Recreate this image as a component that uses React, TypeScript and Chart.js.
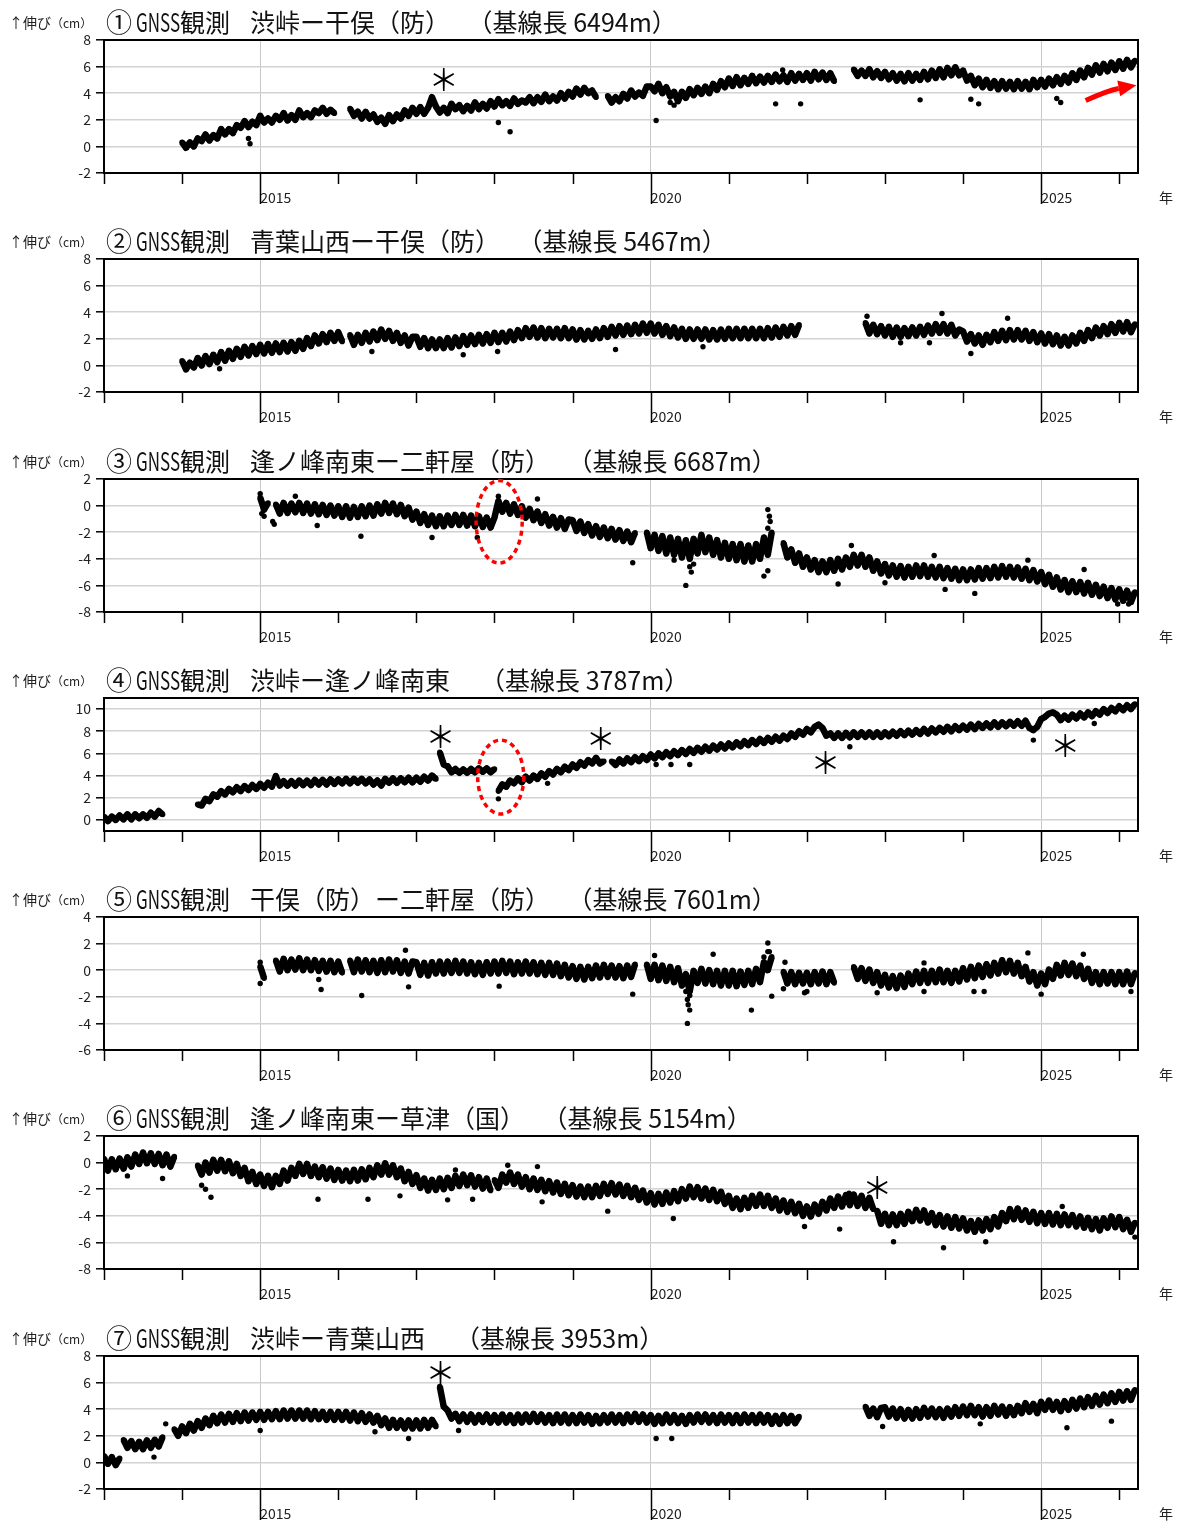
import React, { useEffect, useRef } from 'react';
import { Chart, registerables } from 'chart.js';
Chart.register(...registerables);

const FONT = "'Noto Sans CJK JP', 'Noto Sans', sans-serif";
const X_MIN = 2013.0;
const X_MAX = 2026.24;
const STEP = 0.05;
const xTickYears = [2013, 2014, 2015, 2016, 2017, 2018, 2019, 2020, 2021, 2022, 2023, 2024, 2025, 2026];
const xLabelYears = [2015, 2020, 2025];

// ---------- Panel 1 ----------
const p1a = [0.3,-0.1,0.3,0.0,0.6,0.4,0.9,0.45,0.85,0.6,1.3,0.9,1.3,1.0,1.6,1.4,1.9,1.45,1.85,1.6,
  2.3,1.8,2.1,1.8,2.3,2.0,2.5,1.95,2.35,2.0,2.7,2.2,2.5,2.2,2.7,2.5,2.9,2.45,2.75,2.5];
const p1b = [2.85,2.3,2.6,2.1,2.6,2.1,2.4,
  1.85,2.15,1.7,2.35,1.9,2.4,
  2.1,2.7,2.3,2.9,2.45,2.95,2.45,2.9,
  3.7,3.0,
  2.55,2.9,2.5,3.2,2.8,3.1,2.65,3.05,2.7,3.3,2.8,3.2,2.85,3.4,
  3.0,3.55,3.1,3.4,3.05,3.6,3.2,3.45,3.3,3.7,3.25,3.7,3.35,3.9,3.4,3.75,3.45,4.0,3.6,4.1,
  3.75,4.35,3.9,4.4,4.0,4.2,3.7];
const p1c = [3.8,3.3,3.7,3.4,3.95,3.6,4.2,3.75,4.05,3.8,4.5,
  4.5,4.15,4.7,4.0,4.45,3.75,4.1,
  3.4,4.1,3.65,4.3,3.85,4.4,3.95,4.5,4.0,4.7,4.25,4.9,4.45,
  5.1,4.55,5.2,4.6,5.15,4.7,5.3,4.75,5.25,4.8,5.3,4.85,5.4,4.9,5.35,4.85,5.5,4.95,5.45,5.0,
  5.5,4.95,5.6,5.05,5.55,5.0,5.5,4.9];
const p1d = [5.8,5.3,5.7,5.3,5.8,5.2,5.65,5.15,
  5.6,5.05,5.5,4.95,5.45,4.9,5.5,4.95,5.45,5.0,5.6,5.05,
  5.7,5.15,5.8,5.2,5.9,5.35,5.95,5.35,
  5.7,4.95,5.3,4.6,5.1,4.45,5.0,4.4,4.9,4.3,
  4.9,4.35,4.85,4.3,4.9,4.35,4.85,4.3,5.0,4.45,
  5.0,4.5,5.1,4.6,5.2,4.7,5.3,4.8,5.5,5.0,
  5.7,5.2,5.9,5.4,6.1,5.55,6.2,5.65,6.3,5.75,6.4,5.85,6.5,5.95,6.45];
const p1Out = [[2014.85,0.6],[2014.87,0.2],[2018.05,1.8],[2018.2,1.1],[2020.07,1.95],[2020.25,3.3],[2020.3,3.1],
  [2021.6,3.2],[2021.69,5.75],[2021.92,3.2],[2023.45,3.5],[2024.1,3.55],[2024.2,3.2],[2025.25,3.3],[2025.2,3.6]];

// ---------- Panel 2 ----------
const p2a = [0.35,-0.3,0.2,-0.15,0.55,0.0,0.7,0.1,0.8,0.25,1.0,0.35,1.1,0.5,1.25,0.65,1.4,0.75,1.45,0.85,
  1.55,0.9,1.6,0.95,1.65,1.0,1.7,1.05,1.75,1.1,1.85,1.25,2.05,1.45,2.25,1.65,2.35,1.75,2.45,1.85,
  2.5,1.8];
const p2b = [2.3,1.55,2.3,1.7,2.45,1.8,2.55,1.9,2.7,2.0,2.6,1.85,2.45,1.7,2.25,1.5,2.15,
  2.15,1.4,2.05,1.3,1.95,1.3,1.95,1.3,2.05,1.35,2.1,1.45,2.2,1.55,2.25,1.6,2.3,1.65,2.35,1.7,
  2.45,1.75,2.45,1.8,2.55,1.9,2.65,2.05,2.8,2.15,2.85,2.1,2.8,2.05,2.75,2.1,2.75,2.05,2.8,2.05,
  2.7,1.95,2.65,1.95,2.6,2.0,2.7,2.05,2.8,2.15,2.9,2.25,2.95,2.3,3.0,2.35,3.05,2.4,3.15,2.45,
  3.15,2.4,3.05,2.3,2.95,2.2,2.85,2.1,2.75,2.0,2.7,2.0,2.7,2.0,2.7,1.95,2.65,1.95,2.7,2.0,
  2.75,2.05,2.75,2.05,2.75,2.05,2.75,2.05,2.75,2.05,2.8,2.1,2.85,2.15,2.9,2.25,2.95,2.3,3.05];
const p2c = [3.2,2.4,3.05,2.35,2.95,
  2.25,2.9,2.15,2.85,2.15,2.8,2.2,2.85,2.25,2.9,2.3,3.0,2.4,3.1,2.45,3.1,2.4,3.05,2.25,2.7,
  2.55,1.8,2.35,1.65,2.25,1.55,2.3,1.75,2.5,1.85,2.6,1.9,2.65,1.95,2.65,1.95,2.6,1.85,2.5,1.75,
  2.4,1.65,2.35,1.6,2.25,1.5,2.15,1.5,2.25,1.65,2.45,1.85,2.65,2.05,2.85,2.25,2.95,2.35,3.1,2.45,
  3.2,2.55,3.25,2.5,3.1];
const p2Out = [[2014.48,-0.25],[2016.43,1.05],[2017.6,0.8],[2018.04,1.05],[2019.55,1.2],[2020.67,1.4],
  [2022.77,3.7],[2023.2,1.7],[2023.57,1.7],[2023.73,3.9],[2024.1,0.9],[2024.57,3.55]];

// ---------- Panel 3 ----------
const p3a = [0.6,-0.3,0.2];
const p3b = [0.1,-0.6,0.2,-0.55,0.15,-0.5,0.2,-0.55,0.15,-0.6,0.1,-0.65,0.05,-0.7,0.0,-0.75,
  -0.05,-0.85,-0.05,-0.9,-0.1,-0.85,-0.05,-0.8,0.0,-0.75,0.1,-0.6,0.2,-0.55,0.15,-0.65,0.05,-0.8,-0.15,-1.05,
  -0.45,-1.3,-0.65,-1.45,-0.75,-1.55,-0.8,-1.55,-0.75,-1.45,-0.7,-1.45,-0.7,-1.5,-0.75,-1.55,-0.8,-1.6,-0.9,-1.65,
  -0.9,
  0.35,-0.45,0.2,-0.6,0.1,-0.7,-0.05,-0.9,-0.25,-1.1,-0.45,-1.3,-0.65,-1.5,-0.85,-1.65,-0.95,-1.75,-1.05,
  -1.1,-1.9,-1.2,-2.05,-1.4,-2.25,-1.55,-2.35,-1.65,-2.45,-1.75,-2.55,-1.85,-2.65,-1.95,-2.75,-2.05];
const p3c = [-2.0,-3.2,-2.2,-3.4,-2.3,-3.6,-2.4,-3.7,-2.5,-3.9,-2.6,
  -4.0,-2.5,-3.6,-2.2,-3.5,-2.4,-3.7,-2.6,-3.9,-2.8,
  -4.0,-2.9,-4.1,-2.9,-4.2,-3.0,-4.2,-2.9,-4.0,-2.4,-3.7,-2.0];
const p3d = [-2.8,-3.9,-3.3,-4.3,-3.6,-4.6,
  -3.9,-4.8,-4.1,-5.0,-4.2,-5.0,-4.1,-4.9,-4.0,-4.8,-3.9,-4.6,-3.7,-4.5,-3.7,-4.6,-3.9,-4.9,-4.2,-5.1,
  -4.4,-5.25,-4.5,-5.35,-4.55,-5.4,-4.6,-5.35,-4.5,-5.3,-4.5,-5.35,-4.6,-5.4,-4.6,-5.45,-4.7,-5.5,-4.75,-5.6,
  -4.8,-5.6,-4.8,-5.55,-4.7,-5.5,-4.7,-5.45,-4.6,-5.4,-4.55,-5.35,-4.6,-5.4,-4.65,-5.5,-4.75,-5.6,-4.85,-5.7,
  -5.0,-5.9,-5.2,-6.1,-5.4,-6.3,-5.6,-6.5,-5.7,-6.5,-5.75,-6.6,-5.8,-6.7,-5.95,-6.8,-6.1,-6.95,-6.2,-7.05,
  -6.3,-7.15,-6.4,-7.25,-6.5];
const p3Out = [[2015.0,0.9],[2015.02,-0.6],[2015.05,-0.8],[2015.16,-1.2],[2015.18,-1.4],[2015.45,0.7],[2015.73,-1.5],
  [2016.29,-2.3],[2017.2,-2.4],[2017.78,-2.4],[2018.05,0.7],[2018.55,0.5],[2019.77,-4.3],[2020.3,-4.1],[2020.45,-6.0],
  [2020.5,-4.6],[2020.52,-5.0],[2020.55,-4.4],[2021.45,-5.3],[2021.5,-4.9],[2021.5,-0.3],[2021.52,-0.8],[2021.53,-1.2],
  [2021.5,-1.7],[2022.4,-5.9],[2022.57,-3.0],[2023.0,-5.8],[2023.63,-3.75],[2023.77,-6.3],[2024.15,-6.6],[2024.83,-4.1],
  [2025.55,-4.8],[2025.98,-7.4],[2026.12,-7.4]];

// ---------- Panel 4 ----------
const p4a = [0.3,-0.1,0.3,0.0,0.4,0.05,0.5,0.05,0.5,0.15,0.5,0.2,0.65,0.3,0.8,0.5];
const p4b = [1.4,1.3,1.9,1.7,2.3,2.1,2.6,2.3,2.8,2.5,2.95,2.6,3.05,2.7,3.15,2.8,
  3.25,2.9,3.35,3.0,3.95,3.1,3.5,3.1,3.5,3.1,3.55,3.15,3.55,3.15,3.6,3.2,3.6,3.2,3.65,3.25,
  3.65,3.3,3.7,3.3,3.7,3.35,3.7,3.3,3.65,3.2,3.55,3.1,3.7,3.35,3.75,3.35,3.75,3.4,3.8,3.4,
  3.8,3.45,3.9,3.55,4.0,3.7];
const p4c = [6.1,5.0,4.85,4.3,4.6,4.25,4.55,4.25,4.6,4.3,4.65,4.35,4.65,4.3,4.6];
const p4d = [2.6,3.2,3.0,3.55,3.3,3.75,3.4,3.9,3.55,4.0,3.7,4.2,3.9,4.4,4.1,4.6,4.3,4.8,4.5,5.0,4.7,5.2,4.9,5.4,5.1,5.6,5.1,5.3];
const p4e = [5.3,4.95,5.45,5.1,5.55,5.2,5.65,5.3,5.75,5.4,
  5.9,5.55,6.0,5.65,6.1,5.75,6.2,5.85,6.3,5.95,6.4,6.05,6.5,6.15,6.6,6.25,6.7,6.35,6.8,6.45,
  6.9,6.55,7.0,6.65,7.1,6.75,7.2,6.85,7.3,6.95,7.4,7.05,7.5,7.15,7.6,7.3,7.8,7.5,8.0,7.7,
  8.2,7.9,8.4,8.6,8.3,7.6,7.8,7.4,7.8,7.4,7.85,7.45,7.9,7.5,7.9,7.5,7.9,7.5,7.9,7.5,
  7.9,7.55,7.95,7.6,8.0,7.65,8.05,7.7,8.1,7.75,8.2,7.8,8.25,7.9,8.3,7.95,8.4,8.0,8.45,8.1,
  8.5,8.15,8.6,8.2,8.65,8.3,8.7,8.35,8.8,8.4,8.8,8.45,8.85,8.5,8.9,8.5,8.95,8.3,8.1,8.4,
  9.1,9.3,9.6,9.7,9.5,9.0,9.4,9.05,9.5,9.15,9.6,9.25,9.7,9.35,9.8,9.5,10.0,9.65,10.1,9.8,
  10.25,9.9,10.35,10.0,10.45];
const p4Out = [[2018.05,1.9],[2018.68,3.3],[2020.07,5.0],[2020.26,5.0],[2020.5,5.0],[2022.55,6.6],[2024.9,7.2],[2025.68,8.7]];

// ---------- Panel 5 ----------
const p5a = [0.3,-0.6];
const p5b = [0.75,-0.1,0.85,0.0,0.8,0.05,0.9,0.0,0.8,0.0,0.75,-0.05,0.7,-0.1,0.7,-0.15,0.65,-0.2];
const p5c = [0.75,-0.15,0.8,-0.1,0.75,-0.15,0.7,-0.2,0.75,-0.15,0.8,-0.1,0.75,-0.2,0.65,-0.25,0.65,
  0.6,-0.35,0.55,-0.4,0.6,-0.25,0.65,-0.25,0.65,-0.2,0.7,-0.2,0.65,-0.25,0.6,-0.3,0.55,-0.35,0.6,-0.25,
  0.65,-0.25,0.7,-0.2,0.65,-0.3,0.6,-0.25,0.65,-0.25,0.6,-0.3,0.55,-0.35,0.55,-0.35,0.5,-0.45,0.4,-0.55,
  0.3,-0.65,0.25,-0.7,0.25,-0.6,0.35,-0.55,0.4,-0.5,0.35,-0.55,0.3,-0.6,0.35,-0.5,0.45];
const p5d = [0.45,-0.65,0.4,-0.75,0.35,-0.8,0.25,-0.9,0.15,-1.15,-0.3,
  -1.6,-0.05,-0.95,0.1,-1.0,0.0,-1.05,-0.05,-1.15,-0.05,
  -1.15,-0.05,-1.2,-0.1,-1.1,-0.05,-1.05,0.1,-0.9,0.6,0.0,1.0];
const p5e = [-0.1,-1.0,-0.15,-1.05,-0.2,-1.0,-0.2,-1.05,-0.15,-1.0,-0.1,-1.05,-0.15,-0.95];
const p5f = [0.25,-0.65,0.15,-0.8,0.05,-0.95,-0.15,-1.15,
  -0.35,-1.3,-0.45,-1.35,-0.4,-1.25,-0.25,-1.05,-0.1,-0.95,-0.05,-0.95,-0.05,-0.9,0.05,-0.9,-0.05,-0.95,-0.05,-0.85,
  0.15,-0.7,0.25,-0.6,0.35,-0.5,0.45,-0.4,0.55,-0.25,0.75,-0.15,0.7,-0.25,0.55,-0.45,0.25,-0.85,-0.15,-1.15,
  -0.25,-1.05,0.05,-0.65,0.4,-0.4,0.55,-0.35,0.5,-0.45,0.35,-0.65,0.1,-0.95,-0.15,-1.05,-0.15,-1.0,-0.15,-1.05,
  -0.15,-1.05,-0.1,-1.05,-0.2];
const p5Out = [[2015.0,-1.0],[2015.0,0.6],[2015.78,-1.45],[2015.75,-0.7],[2016.3,-1.9],[2016.86,1.5],[2016.9,-1.25],
  [2018.06,-1.2],[2019.77,-1.8],[2020.05,1.1],[2020.45,-1.6],[2020.47,-2.2],[2020.48,-2.6],[2020.5,-3.0],[2020.47,-4.0],
  [2020.5,-1.9],[2020.8,1.2],[2021.29,-3.0],[2021.45,1.0],[2021.5,2.05],[2021.5,1.4],[2021.52,1.4],[2021.55,-1.95],
  [2021.72,0.6],[2021.7,-1.4],[2021.97,-1.7],[2022.0,-1.6],[2022.9,-1.7],[2023.5,0.55],[2023.5,-1.6],[2024.14,-1.6],
  [2024.27,-1.6],[2024.83,1.3],[2025.0,-1.8],[2025.54,1.2],[2026.15,-1.6]];

// ---------- Panel 6 ----------
const p6a = [0.3,-0.6,0.25,-0.5,0.3,-0.45,0.4,-0.3,0.6,-0.1,0.75,-0.05,0.7,-0.1,0.65,-0.2,0.6,-0.3,0.45];
const p6b = [-0.2,-0.9,0.0,-0.75,0.2,-0.6,0.2,-0.65,0.1,-0.8,-0.1,-1.0,-0.4,-1.4,-0.7,-1.6,
  -0.9,-1.75,-1.0,-1.85,-1.0,-1.6,-0.6,-1.35,-0.4,-1.0,-0.1,-0.85,-0.1,-1.0,-0.3,-1.1,-0.35,-1.2,-0.45,-1.3,
  -0.55,-1.35,-0.6,-1.4,-0.55,-1.35,-0.5,-1.25,-0.4,-1.1,-0.2,-0.9,-0.05,-0.9,-0.2,-1.1,-0.45,-1.4,-0.7,-1.6,
  -0.95,-1.9,-1.2,-2.1,-1.3,-2.05,-1.2,-2.0,-1.15,-1.9,-1.0,-1.75,-0.9,-1.7,-0.95,-1.8,-1.1,-1.95,-1.2,-2.1];
const p6c = [-1.3,-1.9,-0.9,-1.5,-0.75,-1.6,-0.9,-1.8,-1.1,-2.0,-1.2,-2.05,-1.3,-2.15,-1.4,-2.25,-1.5,-2.35,-1.6,-2.45,
  -1.7,-2.55,-1.8,-2.6,-1.8,-2.6,-1.75,-2.5,-1.6,-2.35,-1.55,-2.4,-1.65,-2.5,-1.75,-2.6,-1.9,-2.8,-2.1,-3.0,
  -2.3,-3.15,-2.35,-3.1,-2.25,-3.0,-2.15,-2.9,-2.0,-2.7,-1.8,-2.6,-1.85,-2.7,-1.95,-2.8,-2.05,-2.9,-2.2,-3.1,
  -2.5,-3.4,-2.7,-3.5,-2.65,-3.4,-2.5,-3.25,-2.4,-3.25,-2.5,-3.4,-2.7,-3.6,-2.85,-3.7,-2.95,-3.8,-3.1,-4.0,
  -3.3,-4.05,-3.15,-3.85,-2.95,-3.6,-2.7,-3.4,-2.55,-3.3,-2.45,-3.2,-2.4,-3.25,-2.5,-3.4,-2.65,-3.5];
const p6d = [-3.6,-4.6,
  -3.85,-4.7,-3.9,-4.7,-3.85,-4.6,-3.7,-4.4,-3.55,-4.35,-3.6,-4.5,-3.8,-4.7,-3.95,-4.8,-4.05,-4.9,-4.1,-4.95,
  -4.2,-5.1,-4.4,-5.2,-4.35,-5.1,-4.25,-5.0,-4.1,-4.8,-3.8,-4.4,-3.5,-4.25,-3.45,-4.3,-3.6,-4.45,-3.7,-4.55,
  -3.8,-4.6,-3.8,-4.65,-3.85,-4.7,-3.9,-4.7,-3.95,-4.8,-4.05,-4.9,-4.15,-5.0,-4.25,-5.1,-4.2,-4.9,-4.05,-4.85,
  -4.1,-5.0,-4.3,-5.2,-4.5];
const p6Out = [[2013.3,-1.0],[2013.75,-1.2],[2014.25,-1.7],[2014.3,-2.0],[2014.37,-2.6],[2015.74,-2.75],[2016.38,-2.75],
  [2016.79,-2.5],[2017.4,-2.8],[2017.5,-0.55],[2017.72,-2.75],[2018.17,-0.2],[2018.55,-0.3],[2018.61,-2.95],[2019.45,-3.65],
  [2020.29,-4.2],[2021.97,-4.8],[2022.42,-5.0],[2022.54,-2.3],[2023.11,-5.95],[2023.75,-6.4],[2024.29,-5.95],
  [2025.27,-3.3],[2026.2,-5.6]];

// ---------- Panel 7 ----------
const p7a = [0.5,-0.1,0.4,-0.2,0.3];
const p7b = [1.7,1.1,1.6,1.0,1.55,1.0,1.65,1.1,1.7,1.2,1.9];
const p7c = [2.5,2.0,
  2.7,2.2,2.9,2.4,3.1,2.6,3.3,2.8,3.5,2.95,3.6,3.0,3.65,3.05,3.7,3.1,3.75,3.15,3.75,3.2,
  3.8,3.2,3.8,3.25,3.85,3.25,3.9,3.3,3.9,3.3,3.9,3.3,3.9,3.25,3.85,3.25,3.8,3.2,3.8,3.2,
  3.8,3.2,3.8,3.15,3.75,3.1,3.7,3.05,3.6,3.0,3.5,2.8,3.3,2.6,3.2,2.6,3.15,2.55,3.15,2.55,
  3.15,2.55,3.2,2.6,3.2,2.7];
const p7d = [5.7,4.2,3.9,3.3,
  3.65,3.1,3.6,3.05,3.6,3.0,3.55,3.05,3.6,3.0,
  3.55,3.0,3.6,3.0,3.55,2.95,3.6,3.0,3.6,3.05,3.65,3.05,3.6,3.0,3.55,2.95,3.6,3.0,3.6,2.95,
  3.55,2.95,3.6,3.0,3.55,2.9,3.5,2.95,3.55,3.0,3.6,3.0,3.55,2.95,3.6,3.05,3.65,3.05,3.6,3.0,
  3.55,2.9,3.5,2.95,3.6,3.0,3.55,2.95,3.5,2.9,3.55,3.0,3.6,3.05,3.6,3.0,3.55,2.95,3.6,3.0,
  3.55,2.95,3.55,2.95,3.6,3.0,3.55,2.95,3.6,3.0,3.55,2.9,3.5,2.9,3.55,2.95,3.5,2.95,3.45];
const p7e = [4.2,3.5,4.05,3.4,4.1,
  4.15,3.45,4.05,3.35,4.0,3.3,3.95,3.3,4.0,3.35,4.1,3.45,4.05,3.4,4.0,3.35,4.05,3.45,4.15,3.5,
  4.2,3.55,4.25,3.55,4.15,3.45,4.15,3.5,4.25,3.6,4.2,3.5,4.15,3.55,4.25,3.7,4.45,3.8,4.4,3.7,
  4.55,3.95,4.65,3.95,4.55,3.85,4.6,3.95,4.7,4.05,4.8,4.15,4.9,4.25,5.0,4.35,5.1,4.45,5.2,4.55,
  5.3,4.65,5.35,4.7,5.45];
const p7Out = [[2013.64,0.4],[2013.79,2.9],[2015.0,2.4],[2016.47,2.3],[2016.9,1.8],[2017.54,2.4],[2020.07,1.8],
  [2020.27,1.8],[2022.97,2.7],[2024.22,2.9],[2025.33,2.6],[2025.9,3.1]];

// ---------- axes ----------
const yTicksA = [-2, 0, 2, 4, 6, 8];
const yTicksB = [-8, -6, -4, -2, 0, 2];
const yTicksC = [0, 2, 4, 6, 8, 10];
const yTicksD = [-6, -4, -2, 0, 2, 4];

const circles = ['①', '②', '③', '④', '⑤', '⑥', '⑦'];
const places = ['渋峠ー干俣（防）', '青葉山西ー干俣（防）', '逢ノ峰南東ー二軒屋（防）', '渋峠ー逢ノ峰南東',
  '干俣（防）ー二軒屋（防）', '逢ノ峰南東ー草津（国）', '渋峠ー青葉山西'];
const baselines = ['6494', '5467', '6687', '3787', '7601', '5154', '3953'];

type Seg = [number, number[]];
interface PanelCfg {
  idx: number;
  yMin: number; yMax: number; yTicks: number[];
  segs: Seg[]; outliers: number[][];
  stars: number[][];
  ellipses: number[][];
  arrow?: number[][];
}

const panels: PanelCfg[] = [
  { idx: 0, yMin: -2, yMax: 8, yTicks: yTicksA, segs: [[2014.0, p1a], [2016.15, p1b], [2019.45, p1c], [2022.6, p1d]], outliers: p1Out,
    stars: [[2017.35, 5.0]], ellipses: [], arrow: [[2025.57, 3.45], [2025.85, 4.2], [2026.22, 4.6]] },
  { idx: 1, yMin: -2, yMax: 8, yTicks: yTicksA, segs: [[2014.0, p2a], [2016.15, p2b], [2022.75, p2c]], outliers: p2Out,
    stars: [], ellipses: [] },
  { idx: 2, yMin: -8, yMax: 2, yTicks: yTicksB, segs: [[2015.0, p3a], [2015.2, p3b], [2019.95, p3c], [2021.7, p3d]], outliers: p3Out,
    stars: [], ellipses: [[2018.06, -1.22, 0.295, 3.1]] },
  { idx: 3, yMin: -1, yMax: 11, yTicks: yTicksC, segs: [[2013.0, p4a], [2014.2, p4b], [2017.3, p4c], [2018.05, p4d], [2019.5, p4e]], outliers: p4Out,
    stars: [[2017.31, 7.5], [2019.36, 7.3], [2022.24, 5.2], [2025.31, 6.7]], ellipses: [[2018.08, 3.87, 0.295, 3.33]] },
  { idx: 4, yMin: -6, yMax: 4, yTicks: yTicksD, segs: [[2015.0, p5a], [2015.2, p5b], [2016.15, p5c], [2019.95, p5d], [2021.7, p5e], [2022.6, p5f]], outliers: p5Out,
    stars: [], ellipses: [] },
  { idx: 5, yMin: -8, yMax: 2, yTicks: yTicksB, segs: [[2013.0, p6a], [2014.2, p6b], [2018.0, p6c], [2022.9, p6d]], outliers: p6Out,
    stars: [[2022.9, -1.87]], ellipses: [] },
  { idx: 6, yMin: -2, yMax: 8, yTicks: yTicksA, segs: [[2013.0, p7a], [2013.25, p7b], [2013.9, p7c], [2017.3, p7d], [2022.75, p7e]], outliers: p7Out,
    stars: [[2017.31, 6.75]], ellipses: [] },
];

const boxTops = [40, 259, 479, 698, 917, 1136, 1356];
const W = 1178;
const H = 219;

function segPoints(start: number, vals: number[]) {
  return vals.map((v, i) => ({ x: +(start + i * STEP).toFixed(3), y: v }));
}

function makeDecor(cfg: PanelCfg) {
  return {
    id: 'decor' + cfg.idx,
    afterDraw(chart: any) {
      const { ctx, chartArea: a, scales } = chart;
      const xs = scales.x, ys = scales.y;
      ctx.save();
      ctx.strokeStyle = '#000';
      ctx.lineWidth = 2;
      ctx.strokeRect(a.left, a.top, a.right - a.left, a.bottom - a.top);
      ctx.lineWidth = 1.5;
      xTickYears.forEach((yr) => {
        const px = Math.round(xs.getPixelForValue(yr)) + 0.5;
        const len = xLabelYears.includes(yr) ? 31 : 11;
        ctx.beginPath();
        ctx.moveTo(px, a.bottom);
        ctx.lineTo(px, a.bottom + len);
        ctx.stroke();
      });
      ctx.fillStyle = '#000';
      ctx.font = `30px ${FONT}`;
      ctx.textAlign = 'center';
      ctx.textBaseline = 'middle';
      cfg.stars.forEach(([t, v]) => {
        ctx.fillText('＊', xs.getPixelForValue(t), ys.getPixelForValue(v));
      });
      cfg.ellipses.forEach(([cx, cy, rx, ry]) => {
        const px = xs.getPixelForValue(cx), py = ys.getPixelForValue(cy);
        const prx = Math.abs(xs.getPixelForValue(cx + rx) - px);
        const pry = Math.abs(ys.getPixelForValue(cy + ry) - py);
        ctx.beginPath();
        ctx.setLineDash([5, 4]);
        ctx.strokeStyle = '#ff0000';
        ctx.lineWidth = 3.5;
        ctx.ellipse(px, py, prx, pry, 0, 0, Math.PI * 2);
        ctx.stroke();
        ctx.setLineDash([]);
      });
      if (cfg.arrow) {
        const [t0, c0, t1] = cfg.arrow.map(([t, v]) => [xs.getPixelForValue(t), ys.getPixelForValue(v)]);
        const dx = t1[0] - c0[0], dy = t1[1] - c0[1];
        const L = Math.hypot(dx, dy);
        const ux = dx / L, uy = dy / L;
        const bx = t1[0] - 18 * ux, by = t1[1] - 18 * uy;
        ctx.strokeStyle = '#ff0000';
        ctx.fillStyle = '#ff0000';
        ctx.lineWidth = 5;
        ctx.beginPath();
        ctx.moveTo(t0[0], t0[1]);
        ctx.quadraticCurveTo(c0[0], c0[1], bx, by);
        ctx.stroke();
        ctx.beginPath();
        ctx.moveTo(t1[0], t1[1]);
        ctx.lineTo(bx - 8 * uy, by + 8 * ux);
        ctx.lineTo(bx + 8 * uy, by - 8 * ux);
        ctx.closePath();
        ctx.fill();
      }
      ctx.restore();
    },
  };
}

function Panel({ cfg }: { cfg: PanelCfg }) {
  const ref = useRef<HTMLCanvasElement>(null);
  useEffect(() => {
    const canvas = ref.current;
    if (!canvas) return;
    const segSets = cfg.segs.map(([start, vals]) => ({
      data: segPoints(start, vals),
      showLine: true,
      borderColor: '#000',
      borderWidth: 6.5,
      borderJoinStyle: 'round',
      pointRadius: 2.8,
      pointHoverRadius: 2.8,
      pointBackgroundColor: '#000',
      pointBorderWidth: 0,
    }));
    const outSet = {
      data: cfg.outliers.map(([x, y]) => ({ x, y })),
      showLine: false,
      pointRadius: 2.7,
      pointHoverRadius: 2.7,
      pointBackgroundColor: '#000',
      pointBorderWidth: 0,
    };
    const chart = new Chart(canvas, {
      type: 'scatter',
      data: { datasets: [...segSets, outSet] },
      options: {
        animation: false,
        responsive: false,
        devicePixelRatio: 1,
        events: [],
        layout: { padding: { top: 40, right: 40, left: 0, bottom: 0 } },
        plugins: { legend: { display: false }, tooltip: { enabled: false }, title: { display: false } },
        scales: {
          x: {
            type: 'linear',
            min: X_MIN,
            max: X_MAX,
            afterBuildTicks: (s: any) => { s.ticks = xTickYears.map((v) => ({ value: v })); },
            afterFit: (s: any) => { s.height = H - 173; },
            ticks: {
              autoSkip: false,
              maxRotation: 0,
              align: 'start',
              padding: 16,
              color: '#222',
              font: { family: FONT, size: 14 },
              callback: (v: any) => (xLabelYears.includes(Number(v)) ? String(v) : ''),
            },
            grid: {
              drawTicks: false,
              lineWidth: 1,
              color: (c: any) => (c.tick && xLabelYears.includes(c.tick.value) ? '#c8c8c8' : 'rgba(0,0,0,0)'),
            },
            border: { display: false },
          },
          y: {
            min: cfg.yMin,
            max: cfg.yMax,
            afterBuildTicks: (s: any) => { s.ticks = cfg.yTicks.map((v) => ({ value: v })); },
            afterFit: (s: any) => { s.width = 104; },
            ticks: {
              padding: 5,
              color: '#222',
              font: { family: FONT, size: 14 },
              callback: (v: any) => String(v),
            },
            grid: {
              color: '#d2d2d2',
              lineWidth: 1.6,
              tickColor: '#000',
              tickLength: 8,
              tickWidth: 1.5,
            },
            border: { display: false },
          },
        },
      },
      plugins: [makeDecor(cfg)],
    } as any);
    return () => chart.destroy();
  }, [cfg]);

  const top = boxTops[cfg.idx] - 40;
  const i = cfg.idx;
  return (
    <div style={{ position: 'absolute', left: 0, top, width: W, height: H }}>
      <canvas ref={ref} width={W} height={H} style={{ position: 'absolute', left: 0, top: 0, width: W, height: H }} />
      <div style={{ position: 'absolute', left: 9, top: 13, fontFamily: FONT, fontSize: 14, lineHeight: '18px', whiteSpace: 'nowrap', color: '#222' }}>
        {'↑伸び'}<span style={{ fontSize: 12 }}>{'（cm）'}</span>
      </div>
      <div style={{ position: 'absolute', left: 106, top: 6, fontFamily: FONT, fontSize: 25, lineHeight: '30px', whiteSpace: 'nowrap', color: '#111' }}>
        <span style={{ fontSize: 26 }}>{circles[i]}</span>
        <span style={{ display: 'inline-block', width: 44, transform: 'scaleX(0.68)', transformOrigin: '0 50%', marginLeft: 4 }}>GNSS</span>
        {'観測'}
        <span style={{ display: 'inline-block', width: 20 }} />
        {places[i]}
        {'\u3000\u2009（基線長 ' + baselines[i] + 'm）'}
      </div>
      <div style={{ position: 'absolute', left: 1159, top: 188, fontFamily: FONT, fontSize: 14, lineHeight: '18px', color: '#222' }}>年</div>
    </div>
  );
}

export default function App() {
  return (
    <div style={{ position: 'absolute', left: 0, top: 0, width: W, height: 1522, overflow: 'hidden', background: '#fff' }}>
      {panels.map((p) => <Panel key={p.idx} cfg={p} />)}
    </div>
  );
}
